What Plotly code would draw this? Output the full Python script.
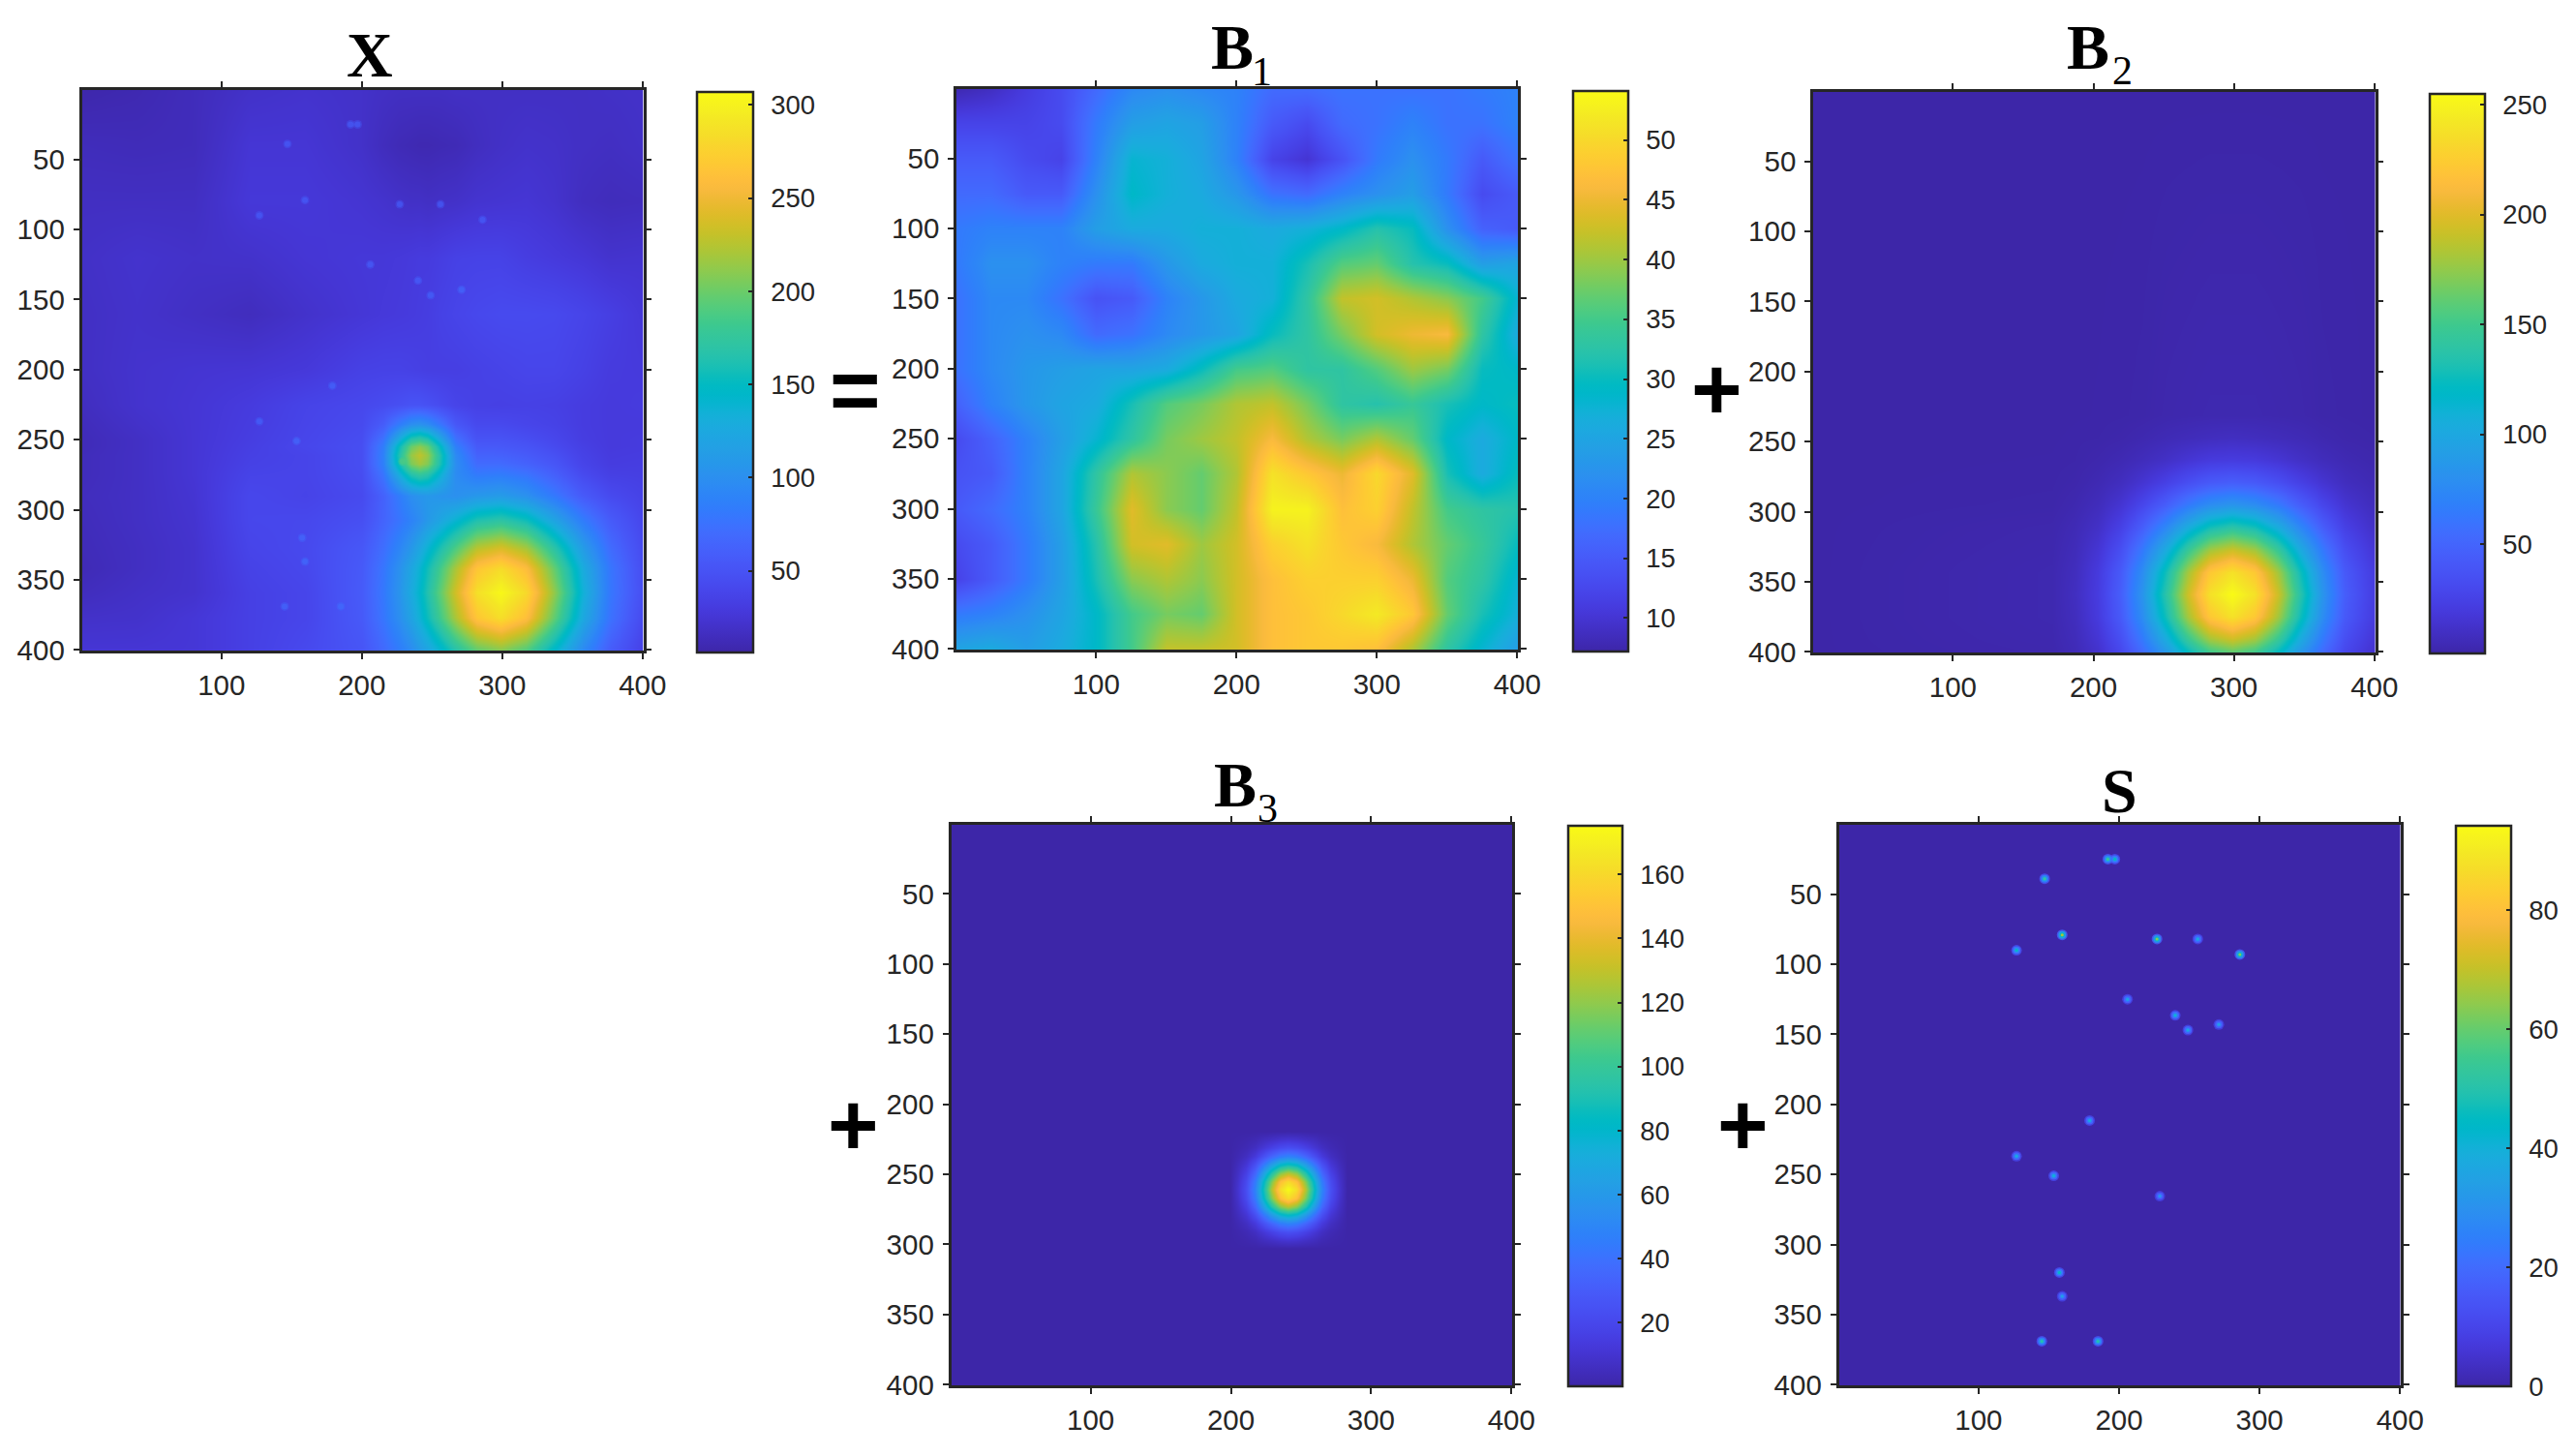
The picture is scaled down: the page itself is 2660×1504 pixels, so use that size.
import plotly.graph_objects as go

W, H = 2660, 1504
TEXT = "#262626"

# parula, the matlab default map
parula = [
    (.2422,.1504,.6603),(.2504,.1650,.7076),(.2578,.1818,.7511),(.2647,.1978,.7952),
    (.2706,.2147,.8364),(.2751,.2342,.8710),(.2783,.2559,.8991),(.2803,.2782,.9221),
    (.2813,.3006,.9414),(.2810,.3228,.9579),(.2795,.3447,.9717),(.2760,.3667,.9829),
    (.2699,.3892,.9906),(.2602,.4123,.9952),(.2440,.4358,.9988),(.2206,.4603,.9973),
    (.1963,.4847,.9892),(.1834,.5074,.9798),(.1786,.5289,.9682),(.1764,.5499,.9520),
    (.1687,.5703,.9359),(.1540,.5902,.9218),(.1460,.6091,.9079),(.1380,.6276,.8973),
    (.1248,.6459,.8883),(.1113,.6635,.8763),(.0952,.6798,.8598),(.0689,.6948,.8394),
    (.0297,.7082,.8163),(.0036,.7203,.7917),(.0067,.7312,.7660),(.0433,.7411,.7394),
    (.0964,.7500,.7120),(.1408,.7584,.6842),(.1717,.7670,.6554),(.1938,.7758,.6251),
    (.2161,.7843,.5923),(.2470,.7918,.5567),(.2906,.7973,.5188),(.3406,.8008,.4789),
    (.3909,.8029,.4354),(.4456,.8024,.3909),(.5044,.7993,.3480),(.5616,.7942,.3045),
    (.6174,.7876,.2612),(.6720,.7793,.2227),(.7242,.7698,.1910),(.7738,.7598,.1646),
    (.8203,.7498,.1535),(.8634,.7406,.1596),(.9035,.7330,.1774),(.9393,.7288,.2100),
    (.9728,.7298,.2394),(.9956,.7434,.2371),(.9970,.7659,.2199),(.9952,.7893,.2028),
    (.9892,.8136,.1885),(.9786,.8386,.1766),(.9676,.8639,.1643),(.9610,.8890,.1537),
    (.9597,.9135,.1423),(.9628,.9373,.1265),(.9691,.9606,.1064),(.9769,.9839,.0805),
]
colorscale = [[i / 63, "rgb(%d,%d,%d)" % (r * 255, g * 255, b * 255)] for i, (r, g, b) in enumerate(parula)]

# values, on grids that get finer around the blobs
x_cols = [1, 40, 80, 120, 160, 200, 215, 227, 235, 241, 247, 255, 267, 282, 299, 317, 337, 357, 377, 400]
x_rows = [1, 40, 80, 120, 160, 200, 225, 239, 249, 255, 261, 267, 275, 290, 307, 327, 342, 359, 377, 400]
x_z = [
    [8, 10, 14, 20, 22, 20, 18, 17, 17, 17, 17, 17, 18, 18, 18, 18, 18, 18, 19, 20],
    [14, 13, 14, 25, 25, 20, 15, 12, 11, 10, 10, 11, 12, 16, 19, 21, 20, 18, 17, 19],
    [17, 17, 17, 27, 27, 24, 22, 20, 19, 19, 18, 19, 20, 23, 24, 25, 22, 16, 14, 15],
    [19, 22, 20, 21, 25, 27, 27, 28, 29, 30, 30, 32, 35, 36, 36, 32, 29, 26, 22, 23],
    [18, 21, 18, 15, 21, 26, 28, 29, 30, 31, 32, 35, 38, 41, 43, 43, 42, 38, 33, 27],
    [18, 22, 24, 25, 28, 35, 36, 36, 35, 34, 33, 33, 33, 35, 37, 39, 39, 35, 30, 29],
    [16, 22, 25, 30, 37, 41, 44, 47, 50, 50, 48, 44, 38, 35, 34, 35, 34, 31, 29, 30],
    [14, 20, 25, 31, 38, 43, 58, 84, 99, 103, 97, 80, 54, 42, 42, 39, 36, 31, 29, 29],
    [13, 18, 25, 32, 39, 45, 75, 129, 164, 172, 162, 127, 74, 50, 50, 46, 40, 32, 29, 30],
    [13, 18, 25, 33, 40, 46, 84, 154, 199, 211, 198, 153, 86, 56, 55, 51, 43, 34, 29, 30],
    [14, 18, 25, 34, 38, 46, 87, 165, 214, 228, 214, 167, 95, 63, 62, 57, 48, 36, 30, 31],
    [14, 18, 25, 35, 38, 46, 86, 159, 205, 218, 207, 164, 98, 70, 70, 63, 53, 38, 31, 32],
    [14, 18, 25, 37, 38, 45, 77, 131, 165, 175, 168, 140, 97, 82, 84, 77, 61, 43, 34, 33],
    [15, 18, 24, 40, 37, 43, 62, 84, 99, 105, 108, 105, 101, 108, 112, 102, 81, 57, 43, 36],
    [14, 18, 23, 40, 41, 47, 64, 78, 89, 98, 109, 121, 139, 162, 170, 155, 120, 84, 57, 40],
    [13, 17, 22, 38, 42, 54, 72, 92, 108, 123, 138, 159, 189, 226, 239, 219, 169, 113, 70, 44],
    [12, 17, 22, 36, 41, 56, 78, 102, 122, 138, 156, 182, 221, 266, 283, 259, 197, 129, 78, 46],
    [15, 19, 22, 34, 39, 57, 80, 105, 127, 144, 164, 193, 236, 286, 305, 281, 212, 136, 79, 47],
    [20, 21, 26, 34, 39, 56, 78, 100, 119, 136, 154, 181, 221, 267, 285, 261, 196, 126, 75, 43],
    [25, 25, 26, 34, 42, 52, 68, 84, 97, 110, 121, 139, 167, 197, 210, 191, 145, 96, 58, 36],
]

b1_cols = [1, 25, 50, 75, 100, 125, 150, 175, 200, 225, 250, 275, 300, 325, 350, 375, 400]
b1_rows = [1, 25, 50, 75, 100, 125, 150, 175, 200, 225, 250, 275, 300, 325, 350, 375, 400]
b1_z = [
    [8, 9, 11, 13, 17, 21, 22, 21, 20, 17, 17, 18, 18, 18, 18, 19, 20],
    [12, 12, 12, 13, 19, 24, 25, 24, 20, 15, 13, 17, 18, 20, 18, 18, 20],
    [15, 15, 13, 12, 20, 28, 27, 25, 20, 12, 10, 14, 19, 22, 19, 15, 18],
    [17, 17, 15, 15, 22, 29, 27, 26, 23, 18, 17, 20, 22, 24, 19, 13, 15],
    [19, 20, 20, 20, 24, 26, 26, 27, 27, 26, 27, 29, 32, 30, 22, 16, 15],
    [19, 22, 22, 20, 19, 19, 23, 26, 27, 27, 31, 36, 37, 32, 30, 24, 25],
    [18, 21, 21, 18, 14, 15, 20, 23, 26, 27, 33, 42, 43, 41, 39, 35, 28],
    [18, 21, 22, 21, 17, 18, 21, 23, 25, 30, 33, 38, 43, 45, 46, 33, 26],
    [18, 21, 23, 24, 25, 25, 26, 30, 35, 36, 33, 33, 36, 40, 38, 30, 29],
    [16, 20, 23, 25, 26, 31, 36, 38, 41, 42, 38, 33, 32, 34, 31, 29, 30],
    [13, 16, 20, 24, 28, 33, 38, 40, 42, 46, 41, 38, 41, 37, 29, 26, 29],
    [14, 15, 20, 25, 33, 41, 39, 37, 41, 51, 48, 45, 50, 44, 31, 26, 30],
    [15, 17, 20, 25, 34, 44, 39, 37, 42, 53, 53, 47, 49, 42, 35, 33, 32],
    [13, 15, 19, 24, 32, 43, 44, 40, 43, 49, 51, 48, 46, 41, 37, 34, 30],
    [12, 15, 19, 24, 31, 39, 41, 39, 43, 47, 49, 49, 49, 45, 36, 33, 28],
    [19, 20, 22, 25, 29, 35, 38, 37, 43, 47, 48, 50, 52, 48, 37, 31, 27],
    [25, 26, 24, 26, 29, 35, 42, 42, 43, 47, 48, 48, 47, 41, 33, 28, 24],
]

b2_cols = [1, 171, 187, 203, 219, 235, 251, 267, 283, 299, 315, 331, 347, 363, 379, 400]
b2_rows = [1, 231, 247, 263, 279, 295, 311, 327, 343, 359, 375, 391, 400]
b2_z = [
    [.3] * 16,
    [.3, .3, .4, .5, .7, 1, 2, 2.5, 3, 3, 3, 2.5, 2, 1, .7, .3],
    [.3, .4, .6, .8, 1.5, 3, 5, 6.5, 8, 9, 8, 6.5, 5, 3, 1.5, .8],
    [.3, .5, .8, 2, 4, 7, 11, 16, 20, 21, 20, 16, 11, 7, 4, 2],
    [.3, .7, 1.5, 4, 8, 15, 24, 34, 42, 45, 42, 34, 24, 15, 8, 4],
    [.3, 1, 3, 7, 15, 28, 45, 64, 78, 84, 78, 64, 45, 28, 15, 7],
    [.3, 2, 5, 11, 24, 45, 73, 103, 127, 137, 127, 103, 73, 45, 24, 11],
    [.3, 2.5, 6.5, 16, 34, 64, 103, 146, 180, 193, 180, 146, 103, 64, 34, 16],
    [.3, 3, 8, 20, 42, 78, 127, 180, 222, 238, 222, 180, 127, 78, 42, 20],
    [.3, 3, 9, 21, 45, 84, 137, 193, 238, 255, 238, 193, 137, 84, 45, 21],
    [.3, 3, 8, 20, 42, 78, 127, 180, 222, 238, 222, 180, 127, 78, 42, 20],
    [.3, 2.5, 6.5, 16, 34, 64, 103, 146, 180, 193, 180, 146, 103, 64, 34, 16],
    [.3, 2, 5.4, 13, 29, 54, 87, 123, 151, 162, 151, 123, 87, 54, 29, 13],
]

b3_cols = [1, 199, 205, 211, 217, 223, 229, 235, 241, 247, 253, 259, 265, 271, 277, 283, 400]
b3_rows = [1, 219, 225, 231, 237, 243, 249, 255, 261, 267, 273, 279, 285, 291, 297, 303, 400]
b3_z = [
    [.3] * 17,
    [.3] * 17,
    [.3, .3, .8, 1.5, 2.8, 5, 7, 9, 10, 9, 7, 5, 2.8, 1.5, .8, .3, .3],
    [.3, .3, 1.5, 3.2, 6.6, 11.5, 17, 22, 24, 22, 17, 11.5, 6.6, 3.2, 1.5, .3, .3],
    [.3, .3, 2.8, 6.6, 13.5, 24, 35, 45, 49, 45, 35, 24, 13.5, 6.6, 2.8, .3, .3],
    [.3, .3, 5, 11.5, 24, 41.5, 62, 79, 85, 79, 62, 41.5, 24, 11.5, 5, .3, .3],
    [.3, .3, 7, 17, 35, 62, 92, 117, 127, 117, 92, 62, 35, 17, 7, .3, .3],
    [.3, .3, 9, 22, 45, 79, 117, 149, 161.5, 149, 117, 79, 45, 22, 9, .3, .3],
    [.3, .3, 10, 24, 49, 85, 127, 161.5, 175, 161.5, 127, 85, 49, 24, 10, .3, .3],
    [.3, .3, 9, 22, 45, 79, 117, 149, 161.5, 149, 117, 79, 45, 22, 9, .3, .3],
    [.3, .3, 7, 17, 35, 62, 92, 117, 127, 117, 92, 62, 35, 17, 7, .3, .3],
    [.3, .3, 5, 11.5, 24, 41.5, 62, 79, 85, 79, 62, 41.5, 24, 11.5, 5, .3, .3],
    [.3, .3, 2.8, 6.6, 13.5, 24, 35, 45, 49, 45, 35, 24, 13.5, 6.6, 2.8, .3, .3],
    [.3, .3, 1.5, 3.2, 6.6, 11.5, 17, 22, 24, 22, 17, 11.5, 6.6, 3.2, 1.5, .3, .3],
    [.3, .3, .8, 1.5, 2.8, 5, 7, 9, 10, 9, 7, 5, 2.8, 1.5, .8, .3, .3],
    [.3] * 17,
    [.3] * 17,
]

s_cols = [1, 400]
s_rows = [1, 400]
s_z = [[0, 0], [0, 0]]
spot_x = [192, 197, 147, 159.5, 227, 256, 127, 286, 206, 240, 271, 249, 179, 127, 153.5, 229, 157.5, 159.5, 145, 185]
spot_y = [25, 25, 39, 79, 82, 82, 90, 93, 125, 136.5, 143, 147, 211.5, 237, 251, 265.5, 320, 337, 369, 369]
spot_s = [60, 50, 58, 75, 70, 42, 50, 70, 40, 45, 38, 42, 42, 42, 45, 35, 50, 38, 55, 55]
spot_in_x = [62, 62, 60, 60, 60, 60, 60, 60, 62, 62, 68, 65, 66, 65, 68, 190, 70, 72, 68, 72]

x_ticks = [100, 200, 300, 400]
y_ticks = [50, 100, 150, 200, 250, 300, 350, 400]
cb_x = [50, 100, 150, 200, 250, 300]
cb_b1 = [10, 15, 20, 25, 30, 35, 40, 45, 50]
cb_b2 = [50, 100, 150, 200, 250]
cb_b3 = [20, 40, 60, 80, 100, 120, 140, 160]
cb_s = [0, 20, 40, 60, 80]

# left, right, top, bottom of the image, then left, right, top, bottom of the colorbar (pixels)
panels = [
    dict(cols=x_cols, rows=x_rows, z=x_z, zmin=6.2, zmax=307, ticks=cb_x, box=(84.5, 664.5, 93, 672), bar=(720, 778, 95, 674)),
    dict(cols=b1_cols, rows=b1_rows, z=b1_z, zmin=7.2, zmax=54.1, ticks=cb_b1, box=(988, 1568, 92, 671), bar=(1625, 1682, 94, 673)),
    dict(cols=b2_cols, rows=b2_rows, z=b2_z, zmin=.3, zmax=255, ticks=cb_b2, box=(1873, 2453.5, 95, 674), bar=(2510, 2567, 97, 675)),
    dict(cols=b3_cols, rows=b3_rows, z=b3_z, zmin=.2, zmax=175.2, ticks=cb_b3, box=(982.5, 1562, 851.5, 1431), bar=(1620, 1676, 853, 1432)),
    dict(cols=s_cols, rows=s_rows, z=s_z, zmin=0, zmax=94.2, ticks=cb_s, box=(1899.5, 2480, 852, 1431), bar=(2537, 2593.5, 853, 1432)),
]

fig = go.Figure()

for n, p in enumerate(panels):
    left, right, top, bottom = p["box"]
    bl, br, bt, bb = p["bar"]
    xa, ya = "x%d" % (n + 1), "y%d" % (n + 1)
    fig.add_trace(go.Heatmap(
        x=p["cols"], y=p["rows"], z=p["z"], xaxis=xa, yaxis=ya, zsmooth="best",
        zmin=p["zmin"], zmax=p["zmax"], colorscale=colorscale,
        colorbar=dict(
            x=bl / W, xanchor="left", xpad=0, y=1 - bb / H, yanchor="bottom", ypad=0,
            len=(bb - bt) / H, lenmode="fraction", thickness=br - bl, thicknessmode="pixels",
            outlinewidth=2.5, outlinecolor=TEXT, tickmode="array", tickvals=p["ticks"],
            ticktext=["\u2009\u2009%d" % t for t in p["ticks"]],
            ticks="inside", ticklen=6, tickwidth=2, tickcolor=TEXT,
            tickfont=dict(family="Liberation Sans", size=27.5, color=TEXT),
        ),
    ))
    axis = dict(
        showgrid=False, zeroline=False, showline=True, linewidth=2.5, linecolor=TEXT, mirror="ticks",
        ticks="outside", ticklen=6, tickwidth=2, tickcolor=TEXT,
        tickfont=dict(family="Liberation Sans", size=29.5, color=TEXT),
        tickmode="array",
    )
    fig.layout["xaxis%d" % (n + 1)] = dict(
        axis, domain=[left / W, right / W], range=[.5, 400.5], anchor=ya, tickvals=x_ticks, ticklabelstandoff=2)
    fig.layout["yaxis%d" % (n + 1)] = dict(
        axis, domain=[1 - bottom / H, 1 - top / H], range=[400.5, .5], anchor=xa, tickvals=y_ticks, ticklabelstandoff=3)

# the faint spots in X and the sharp ones in S, a blurred look from stacked markers
for size, alpha in [(9, .35), (6, .55)]:
    fig.add_trace(go.Scatter(
        x=spot_x, y=spot_y, xaxis="x1", yaxis="y1", mode="markers", showlegend=False,
        marker=dict(size=size, color=spot_in_x, cmin=6.2, cmax=307,
                    colorscale=colorscale, opacity=alpha, line_width=0),
    ))
for size, share, alpha in [(11, .25, .8), (8, .45, .9), (5, .6, 1), (3, .9, 1)]:
    fig.add_trace(go.Scatter(
        x=spot_x, y=spot_y, xaxis="x5", yaxis="y5", mode="markers", showlegend=False,
        marker=dict(size=size, color=[v * share for v in spot_s], cmin=0, cmax=94.2,
                    colorscale=colorscale, opacity=alpha, line_width=0),
    ))

titles = [
    ("<b>X</b>", 382, 81, 66), ("<b>B</b>", 1273, 73, 66), ("1", 1303, 90, 42),
    ("<b>B</b>", 2156.5, 73, 66), ("2", 2192.5, 89, 42),
    ("<b>B</b>", 1276, 835, 66), ("3", 1309, 851, 42), ("<b>S</b>", 2189.5, 841, 66),
]
for text, cx, base, size in titles:
    fig.add_annotation(
        text=text, xref="paper", yref="paper", x=cx / W, y=1 - (base + size * 0.21) / H, xanchor="center", yanchor="bottom",
        showarrow=False, font=dict(family="Liberation Serif", size=size, color="black"),
    )

signs = [("=", 883, 403), ("+", 1773, 402), ("+", 881, 1162), ("+", 1800, 1162)]
for text, cx, cy in signs:
    fig.add_annotation(
        text="<b>%s</b>" % text, xref="paper", yref="paper", x=cx / W, y=1 - cy / H, xanchor="center", yanchor="middle",
        showarrow=False, font=dict(family="Liberation Sans", size=90, color="black"),
    )

fig.update_layout(
    width=W, height=H, autosize=False, margin=dict(l=0, r=0, t=0, b=0, autoexpand=False),
    paper_bgcolor="white", plot_bgcolor="white", showlegend=False,
)

fig.write_html("out.html", config=dict(displayModeBar=False),
               post_script="document.body.style.margin='0';document.documentElement.style.overflow='hidden';")
